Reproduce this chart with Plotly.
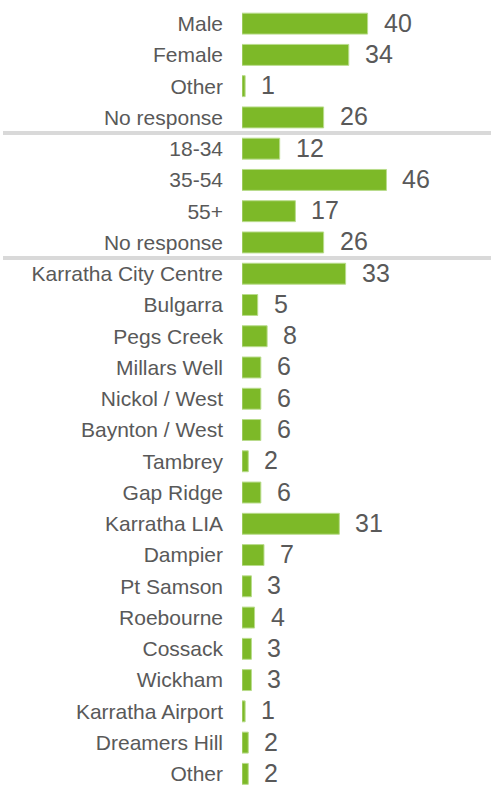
import plotly.graph_objects as go

gender_labels = ["Male", "Female", "Other", "No response"]
gender_values = [40, 34, 1, 26]
age_labels = ["18-34", "35-54", "55+", "No response"]
age_values = [12, 46, 17, 26]
area_labels = ["Karratha City Centre", "Bulgarra", "Pegs Creek", "Millars Well",
               "Nickol / West", "Baynton / West", "Tambrey", "Gap Ridge",
               "Karratha LIA", "Dampier", "Pt Samson", "Roebourne", "Cossack",
               "Wickham", "Karratha Airport", "Dreamers Hill", "Other"]
area_values = [33, 5, 8, 6, 6, 6, 2, 6, 31, 7, 3, 4, 3, 3, 1, 2, 2]

labels = gender_labels + age_labels + area_labels
values = gender_values + age_values + area_values
ypos = list(range(len(labels)))

GREEN = "#7db928"
GREY = "#595959"
FONT = "Liberation Sans, Arial, sans-serif"

fig = go.Figure(go.Bar(
    x=values, y=ypos, orientation="h",
    marker=dict(color=GREEN, line=dict(color="#b9dc8c", width=1)),
    width=0.67, hoverinfo="skip",
))

for v, y in zip(values, ypos):
    fig.add_annotation(x=v, y=y, text=str(v), showarrow=False,
                       xanchor="left", yanchor="middle", xshift=14, yshift=1,
                       font=dict(family=FONT, size=25, color=GREY))

W, H = 491, 787
L = 242
b1 = len(gender_labels) - 0.5
b2 = len(gender_labels) + len(age_labels) - 0.5
for yb in (b1, b2):
    fig.add_shape(type="line", xref="paper", yref="y",
                  x0=(3 - L) / (W - L), x1=1, y0=yb, y1=yb,
                  line=dict(color="#d9d9d9", width=4))

fig.update_layout(
    width=W, height=H,
    margin=dict(l=L, r=0, t=8, b=0),
    plot_bgcolor="white", paper_bgcolor="white",
    showlegend=False,
    font=dict(family=FONT, color=GREY),
    xaxis=dict(range=[0, 79.3], visible=False, fixedrange=True),
    yaxis=dict(range=[len(labels) - 0.58, -0.5], tickvals=ypos, ticktext=labels,
               showgrid=False, zeroline=False, showline=False,
               ticks="", ticklabelstandoff=18,
               tickfont=dict(family=FONT, size=21, color=GREY)),
)

fig.write_html("out.html", config={"displayModeBar": False},
               post_script="document.body.style.margin='0';document.body.style.overflow='hidden';")
